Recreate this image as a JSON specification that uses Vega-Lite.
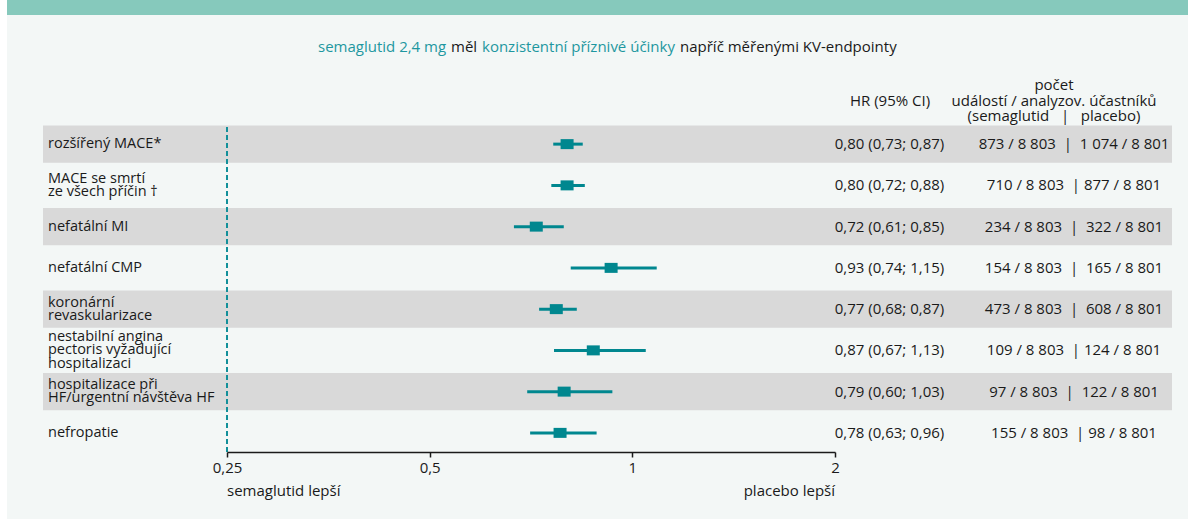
{
  "$schema": "https://vega.github.io/schema/vega-lite/v6.json",
  "width": 1194,
  "height": 524,
  "autosize": "none",
  "padding": 0,
  "background": "#ffffff",
  "config": {"view": {"stroke": null}, "font": "Open Sans", "text": {"font": "Open Sans"}},
  "datasets": {
    "rows": [
      {"endpoint": "rozšířený MACE*", "hr": 0.80, "lo": 0.763, "hi": 0.844, "hrText": "0,80 (0,73; 0,87)", "events": "873 / 8 803\u00a0\u00a0|\u00a0\u00a01 074 / 8 801"},
      {"endpoint": "MACE se smrtí\nze všech příčin †", "hr": 0.80, "lo": 0.758, "hi": 0.850, "hrText": "0,80 (0,72; 0,88)", "events": "710 / 8 803\u00a0\u00a0|\u00a0877 / 8 801"},
      {"endpoint": "nefatální MI", "hr": 0.72, "lo": 0.667, "hi": 0.791, "hrText": "0,72 (0,61; 0,85)", "events": "234 / 8 803\u00a0\u00a0|\u00a0\u00a0322 / 8 801"},
      {"endpoint": "nefatální CMP", "hr": 0.93, "lo": 0.810, "hi": 1.087, "hrText": "0,93 (0,74; 1,15)", "events": "154 / 8 803\u00a0\u00a0|\u00a0\u00a0165 / 8 801"},
      {"endpoint": "koronární\nrevaskularizace", "hr": 0.771, "lo": 0.727, "hi": 0.827, "hrText": "0,77 (0,68; 0,87)", "events": "473 / 8 803\u00a0\u00a0|\u00a0\u00a0608 / 8 801"},
      {"endpoint": "nestabilní angina\npectoris vyžadující\nhospitalizaci", "hr": 0.875, "lo": 0.765, "hi": 1.047, "hrText": "0,87 (0,67; 1,13)", "events": "109 / 8 803\u00a0\u00a0|\u00a0124 / 8 801"},
      {"endpoint": "hospitalizace při\nHF/urgentní návštěva HF", "hr": 0.792, "lo": 0.698, "hi": 0.934, "hrText": "0,79 (0,60; 1,03)", "events": "97 / 8 803\u00a0\u00a0|\u00a0\u00a0122 / 8 801"},
      {"endpoint": "nefropatie", "hr": 0.781, "lo": 0.705, "hi": 0.885, "hrText": "0,78 (0,63; 0,96)", "events": "155 / 8 803\u00a0\u00a0|\u00a098 / 8 801"}
    ],
    "one": [{"k": "x"}]
  },
  "resolve": {"scale": {"x": "independent", "y": "independent"}},
  "layer": [
    {
      "data": {"name": "one"},
      "mark": {"type": "rect", "color": "#F3F7F6"},
      "encoding": {
        "x": {"datum": "panel", "type": "nominal", "scale": {"type": "band", "domain": ["panel"], "range": [7, 1188], "paddingInner": 0, "paddingOuter": 0}, "axis": null},
        "y": {"datum": "panel", "type": "nominal", "scale": {"type": "band", "domain": ["panel"], "range": [15, 519], "paddingInner": 0, "paddingOuter": 0}, "axis": null}
      }
    },
    {
      "data": {"name": "one"},
      "mark": {"type": "rect", "color": "#86C9BC"},
      "encoding": {
        "x": {"datum": "strip", "type": "nominal", "scale": {"type": "band", "domain": ["strip"], "range": [7, 1188], "paddingInner": 0, "paddingOuter": 0}, "axis": null},
        "y": {"datum": "strip", "type": "nominal", "scale": {"type": "band", "domain": ["strip"], "range": [0, 15], "paddingInner": 0, "paddingOuter": 0}, "axis": null}
      }
    },
    {
      "data": {"name": "rows"},
      "transform": [{"window": [{"op": "row_number", "as": "rn"}]}, {"filter": "datum.rn % 2 == 1"}],
      "mark": {"type": "rect", "color": "#D9D9D9"},
      "encoding": {
        "x": {"datum": "band", "type": "nominal", "scale": {"type": "band", "domain": ["band"], "range": [43, 1172], "paddingInner": 0, "paddingOuter": 0}, "axis": null},
        "y": {"field": "endpoint", "type": "nominal", "sort": null, "scale": {"type": "band", "domain": ["rozšířený MACE*", "MACE se smrtí\nze všech příčin †", "nefatální MI", "nefatální CMP", "koronární\nrevaskularizace", "nestabilní angina\npectoris vyžadující\nhospitalizaci", "hospitalizace při\nHF/urgentní návštěva HF", "nefropatie"], "range": [123.5, 453.5], "paddingInner": 0.1, "paddingOuter": 0.05}, "axis": null}
      }
    },
    {
      "data": {"name": "one"},
      "mark": {"type": "rule", "color": "#12909A", "strokeWidth": 2, "strokeDash": [5, 3]},
      "encoding": {
        "x": {"datum": 0.25, "type": "quantitative", "scale": {"type": "log", "base": 2, "domain": [0.25, 2], "range": [227, 835]}, "axis": null},
        "y": {"datum": "top", "type": "nominal", "scale": {"type": "point", "domain": ["top", "bottom"], "range": [127, 452], "padding": 0}, "axis": null},
        "y2": {"datum": "bottom"}
      }
    },
    {
      "data": {"name": "rows"},
      "mark": {"type": "rule", "color": "#00878F", "strokeWidth": 3},
      "encoding": {
        "x": {"field": "lo", "type": "quantitative", "scale": {"type": "log", "base": 2, "domain": [0.25, 2], "range": [227, 835]},
          "axis": {"values": [0.25, 0.5, 1, 2], "labelExpr": "replace(format(datum.value, '~g'), '.', ',')", "offset": -72, "title": null, "grid": false, "zindex": 1, "domainColor": "#1a1a1a", "domainWidth": 1.5, "tickColor": "#1a1a1a", "tickWidth": 1.5, "tickSize": 5, "labelFont": "Open Sans", "labelFontSize": 15, "labelColor": "#1a1a1a", "labelPadding": 3, "labelFlush": false, "labelOverlap": false}},
        "x2": {"field": "hi"},
        "y": {"field": "endpoint", "type": "nominal", "sort": null, "scale": {"type": "band", "domain": ["rozšířený MACE*", "MACE se smrtí\nze všech příčin †", "nefatální MI", "nefatální CMP", "koronární\nrevaskularizace", "nestabilní angina\npectoris vyžadující\nhospitalizaci", "hospitalizace při\nHF/urgentní návštěva HF", "nefropatie"], "range": [123.5, 453.5], "paddingInner": 0.1, "paddingOuter": 0.05}, "axis": null}
      }
    },
    {
      "data": {"name": "rows"},
      "mark": {"type": "point", "shape": "M-1.3,-1L1.3,-1L1.3,1L-1.3,1Z", "filled": true, "size": 100, "color": "#00878F", "opacity": 1},
      "encoding": {
        "x": {"field": "hr", "type": "quantitative", "scale": {"type": "log", "base": 2, "domain": [0.25, 2], "range": [227, 835]}, "axis": null},
        "y": {"field": "endpoint", "type": "nominal", "sort": null, "scale": {"type": "band", "domain": ["rozšířený MACE*", "MACE se smrtí\nze všech příčin †", "nefatální MI", "nefatální CMP", "koronární\nrevaskularizace", "nestabilní angina\npectoris vyžadující\nhospitalizaci", "hospitalizace při\nHF/urgentní návštěva HF", "nefropatie"], "range": [123.5, 453.5], "paddingInner": 0.1, "paddingOuter": 0.05}, "axis": null}
      }
    },
    {
      "data": {"name": "rows"},
      "transform": [{"filter": "length(split(datum.endpoint, '\\n')) == 1"}],
      "mark": {"type": "text", "align": "left", "baseline": "middle", "fontSize": 14.5, "color": "#1a1a1a", "lineBreak": "\n", "lineHeight": 13},
      "encoding": {
        "x": {"datum": "lab", "type": "nominal", "scale": {"type": "point", "domain": ["lab"], "range": [48, 48]}, "axis": null},
        "y": {"field": "endpoint", "type": "nominal", "sort": null, "scale": {"type": "band", "domain": ["rozšířený MACE*", "MACE se smrtí\nze všech příčin †", "nefatální MI", "nefatální CMP", "koronární\nrevaskularizace", "nestabilní angina\npectoris vyžadující\nhospitalizaci", "hospitalizace při\nHF/urgentní návštěva HF", "nefropatie"], "range": [123.5, 453.5], "paddingInner": 0.1, "paddingOuter": 0.05}, "axis": null},
        "text": {"field": "endpoint"}
      }
    },
    {
      "data": {"name": "rows"},
      "transform": [{"filter": "length(split(datum.endpoint, '\\n')) == 2"}],
      "mark": {"type": "text", "align": "left", "baseline": "middle", "fontSize": 14.5, "color": "#1a1a1a", "lineBreak": "\n", "lineHeight": 13, "dy": -6.5},
      "encoding": {
        "x": {"datum": "lab", "type": "nominal", "scale": {"type": "point", "domain": ["lab"], "range": [48, 48]}, "axis": null},
        "y": {"field": "endpoint", "type": "nominal", "sort": null, "scale": {"type": "band", "domain": ["rozšířený MACE*", "MACE se smrtí\nze všech příčin †", "nefatální MI", "nefatální CMP", "koronární\nrevaskularizace", "nestabilní angina\npectoris vyžadující\nhospitalizaci", "hospitalizace při\nHF/urgentní návštěva HF", "nefropatie"], "range": [123.5, 453.5], "paddingInner": 0.1, "paddingOuter": 0.05}, "axis": null},
        "text": {"field": "endpoint"}
      }
    },
    {
      "data": {"name": "rows"},
      "transform": [{"filter": "length(split(datum.endpoint, '\\n')) == 3"}],
      "mark": {"type": "text", "align": "left", "baseline": "middle", "fontSize": 14.5, "color": "#1a1a1a", "lineBreak": "\n", "lineHeight": 13.5, "dy": -13.5},
      "encoding": {
        "x": {"datum": "lab", "type": "nominal", "scale": {"type": "point", "domain": ["lab"], "range": [48, 48]}, "axis": null},
        "y": {"field": "endpoint", "type": "nominal", "sort": null, "scale": {"type": "band", "domain": ["rozšířený MACE*", "MACE se smrtí\nze všech příčin †", "nefatální MI", "nefatální CMP", "koronární\nrevaskularizace", "nestabilní angina\npectoris vyžadující\nhospitalizaci", "hospitalizace při\nHF/urgentní návštěva HF", "nefropatie"], "range": [123.5, 453.5], "paddingInner": 0.1, "paddingOuter": 0.05}, "axis": null},
        "text": {"field": "endpoint"}
      }
    },
    {
      "data": {"name": "rows"},
      "transform": [{"fold": ["hrText", "events"], "as": ["col", "txt"]}],
      "mark": {"type": "text", "align": "center", "baseline": "middle", "fontSize": 15, "color": "#1a1a1a"},
      "encoding": {
        "x": {"field": "col", "type": "nominal", "scale": {"type": "point", "domain": ["hrText", "events"], "range": [889.5, 1074], "padding": 0}, "axis": null},
        "y": {"field": "endpoint", "type": "nominal", "sort": null, "scale": {"type": "band", "domain": ["rozšířený MACE*", "MACE se smrtí\nze všech příčin †", "nefatální MI", "nefatální CMP", "koronární\nrevaskularizace", "nestabilní angina\npectoris vyžadující\nhospitalizaci", "hospitalizace při\nHF/urgentní návštěva HF", "nefropatie"], "range": [123.5, 453.5], "paddingInner": 0.1, "paddingOuter": 0.05}, "axis": null},
        "text": {"field": "txt"}
      }
    },
    {
      "data": {"values": [{"col": "hr", "text": "HR (95% CI)"}, {"col": "n", "text": "počet\nudálostí / analyzov. účastníků\n(semaglutid\u00a0\u00a0\u00a0|\u00a0\u00a0\u00a0placebo)"}]},
      "mark": {"type": "text", "align": "center", "baseline": "middle", "fontSize": 15, "color": "#1a1a1a", "lineBreak": "\n", "lineHeight": 15.5},
      "encoding": {
        "x": {"field": "col", "type": "nominal", "scale": {"type": "point", "domain": ["hr", "n"], "range": [890, 1054], "padding": 0}, "axis": null},
        "y": {"field": "col", "type": "nominal", "scale": {"type": "point", "domain": ["hr", "n"], "range": [100.5, 85], "padding": 0}, "axis": null},
        "text": {"field": "text"}
      }
    },
    {
      "data": {"values": [{"part": "semaglutid 2,4 mg"}, {"part": "konzistentní příznivé účinky"}]},
      "mark": {"type": "text", "align": "left", "baseline": "middle", "fontSize": 15, "color": "#1E97A0"},
      "encoding": {
        "x": {"field": "part", "type": "nominal", "scale": {"type": "point", "domain": ["semaglutid 2,4 mg", "konzistentní příznivé účinky"], "range": [318, 482], "padding": 0}, "axis": null},
        "y": {"datum": "title", "type": "nominal", "scale": {"type": "point", "domain": ["title"], "range": [47, 47]}, "axis": null},
        "text": {"field": "part"}
      }
    },
    {
      "data": {"values": [{"part": "měl"}, {"part": "napříč měřenými KV-endpointy"}]},
      "mark": {"type": "text", "align": "left", "baseline": "middle", "fontSize": 15, "color": "#1a1a1a"},
      "encoding": {
        "x": {"field": "part", "type": "nominal", "scale": {"type": "point", "domain": ["měl", "napříč měřenými KV-endpointy"], "range": [451, 680], "padding": 0}, "axis": null},
        "y": {"datum": "title", "type": "nominal", "scale": {"type": "point", "domain": ["title"], "range": [47, 47]}, "axis": null},
        "text": {"field": "part"}
      }
    },
    {
      "data": {"name": "one"},
      "mark": {"type": "text", "align": "left", "baseline": "middle", "fontSize": 15, "color": "#1a1a1a"},
      "encoding": {
        "x": {"datum": 0.25, "type": "quantitative", "scale": {"type": "log", "base": 2, "domain": [0.25, 2], "range": [227, 835]}, "axis": null},
        "y": {"datum": "foot", "type": "nominal", "scale": {"type": "point", "domain": ["foot"], "range": [491, 491]}, "axis": null},
        "text": {"value": "semaglutid lepší"}
      }
    },
    {
      "data": {"name": "one"},
      "mark": {"type": "text", "align": "right", "baseline": "middle", "fontSize": 15, "color": "#1a1a1a"},
      "encoding": {
        "x": {"datum": 2, "type": "quantitative", "scale": {"type": "log", "base": 2, "domain": [0.25, 2], "range": [227, 835]}, "axis": null},
        "y": {"datum": "foot", "type": "nominal", "scale": {"type": "point", "domain": ["foot"], "range": [491, 491]}, "axis": null},
        "text": {"value": "placebo lepší"}
      }
    }
  ]
}
